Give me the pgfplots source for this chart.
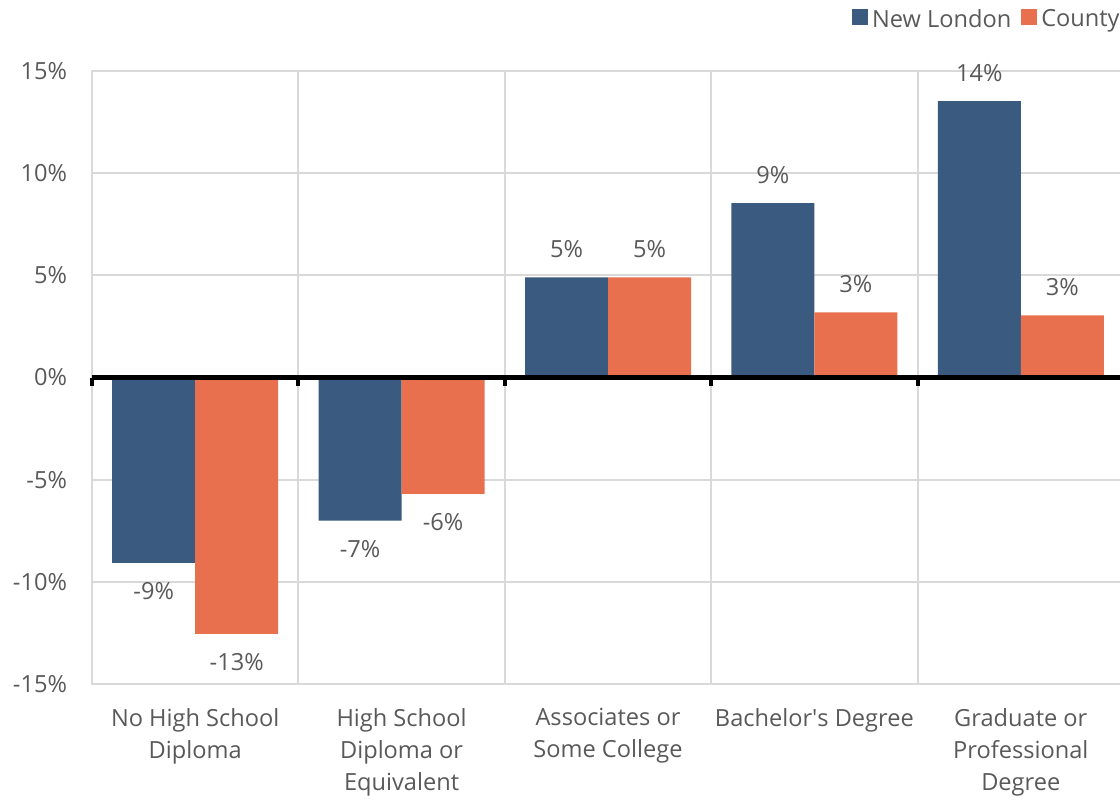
\documentclass[border=0pt]{standalone}
\usepackage{pgfplots}
\pgfplotsset{compat=1.18}
\usepackage{fontspec}
\setmainfont{Open Sans}
\definecolor{nl}{HTML}{3B5A80}
\definecolor{co}{HTML}{E8704F}
\definecolor{txt}{HTML}{595959}
\definecolor{grd}{HTML}{D9D9D9}
\newcommand{\fs}{\fontsize{11.8}{16}\selectfont}
\pgfplotsset{mylegend/.style={legend image code/.code={\fill[##1,draw=none] (0pt,-2.5pt) rectangle (8pt,5.5pt);}}}
\begin{document}
\begin{tikzpicture}
\path[use as bounding box] (-46pt,-57.5pt) rectangle (514pt,342pt);
\begin{axis}[
 at={(0,0)}, anchor=south west,
 scale only axis, width=516pt, height=306.5pt,
 ybar=0pt, bar width=41.5pt,
 xmin=-0.5, xmax=4.5, ymin=-15, ymax=15,
 xtick={0,1,2,3,4},
 xticklabels={{No High School\\Diploma},{High School\\Diploma or\\Equivalent},{Associates or\\Some College},{Bachelor\textquotesingle s Degree},{Graduate or\\Professional\\Degree}},
 xticklabel style={align=center, font=\fs, text=txt, yshift=-8.5pt},
 minor xtick={-0.5,0.5,1.5,2.5,3.5,4.5},
 xminorgrids, minor grid style={grd, line width=1pt},
 ytick={-15,-10,-5,0,5,10,15},
 ymajorgrids, major grid style={grd, line width=1pt},
 yticklabel={\pgfmathprintnumber{\tick}\%},
 yticklabel style={font=\fs, text=txt, xshift=-9pt},
 /pgf/number format/assume math mode=true,
 major tick length=0pt, minor tick length=0pt,
 axis line style={grd, line width=1pt},
 nodes near coords={\pgfmathprintnumber[fixed,precision=0,assume math mode=true]{\pgfplotspointmeta}\%},
 every node near coord/.append style={font=\fs, text=txt, inner sep=9.5pt},
 legend style={at={(axis description cs:1,1)}, anchor=north east, yshift=35pt, xshift=3pt, draw=none, fill=none, font=\fs, text=txt, /tikz/every even column/.append style={column sep=3pt}},
 legend columns=2,
 clip=false,
]
\addplot[fill=nl, draw=none, mylegend] coordinates {(0,-9.07) (1,-7.0) (2,4.9) (3,8.53) (4,13.52)};
\addplot[fill=co, draw=none, mylegend] coordinates {(0,-12.55) (1,-5.7) (2,4.9) (3,3.19) (4,3.04)};
\legend{New London, County}
\draw[black, line width=2.3pt] (axis cs:-0.5,0) -- (axis cs:4.5,0);
\draw[black, line width=2pt] (axis cs:-0.5,0) -- (axis cs:-0.5,-0.4);
\draw[black, line width=2pt] (axis cs:0.5,0) -- (axis cs:0.5,-0.4);
\draw[black, line width=2pt] (axis cs:1.5,0) -- (axis cs:1.5,-0.4);
\draw[black, line width=2pt] (axis cs:2.5,0) -- (axis cs:2.5,-0.4);
\draw[black, line width=2pt] (axis cs:3.5,0) -- (axis cs:3.5,-0.4);
\end{axis}
\end{tikzpicture}
\end{document}
